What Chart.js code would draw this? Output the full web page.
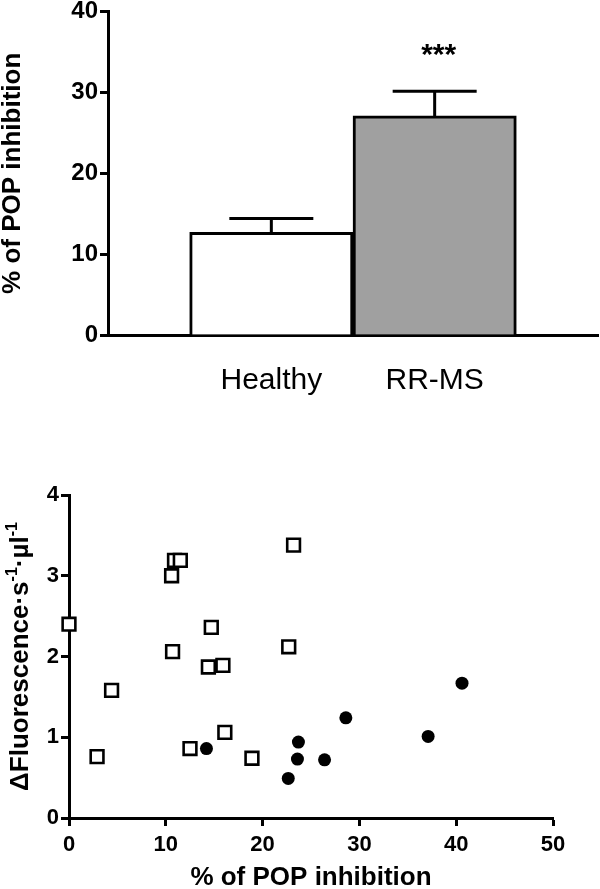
<!DOCTYPE html>
<html>
<head>
<meta charset="utf-8">
<script src="https://cdn.jsdelivr.net/npm/chart.js@4"></script>
<style>
  body { margin: 0; background: #fff; }
  canvas { display: block; }
</style>
</head>
<body>
<canvas id="barChart" width="600" height="400"></canvas>
<canvas id="scatterChart" width="600" height="489"></canvas>
<script>
// bar chart: % of POP inhibition, mean + SEM
const groups = ['Healthy', 'RR-MS'];
const means = [12.7, 27.1];
const sems = [1.7, 3.05];
const stars = ['', '***'];
const barColors = ['#ffffff', '#a0a0a0'];
const barTicks = [0, 10, 20, 30, 40];

// scatter: POP inhibition vs fluorescence
const healthyX = [0, 2.9, 4.4, 10.6, 10.9, 11.5, 10.7, 12.5, 14.7, 14.4, 15.9, 16.1, 18.9, 22.7, 23.2];
const healthyY = [2.40, 0.76, 1.58, 3.00, 3.19, 3.19, 2.06, 0.86, 2.36, 1.87, 1.89, 1.06, 0.74, 2.12, 3.38];
const rrmsX = [14.2, 22.65, 23.7, 23.6, 26.4, 28.6, 37.1, 40.6];
const rrmsY = [0.86, 0.49, 0.94, 0.73, 0.72, 1.24, 1.01, 1.67];

Chart.defaults.font.family = "'Liberation Sans', Arial, sans-serif";
Chart.defaults.color = '#000';

const errorBars = {
    id: 'errorBars',
    afterDatasetsDraw(chart) {
        const ctx = chart.ctx;
        const xs = chart.scales.x, ys = chart.scales.y;
        ctx.save();
        ctx.strokeStyle = '#000';
        ctx.lineWidth = 3;
        means.forEach((m, i) => {
            const x = xs.getPixelForValue(i + 1);
            const yBar = ys.getPixelForValue(m);
            const yTop = ys.getPixelForValue(m + sems[i]);
            ctx.beginPath();
            ctx.moveTo(x, yBar);
            ctx.lineTo(x, yTop);
            ctx.moveTo(x - 42, yTop);
            ctx.lineTo(x + 42, yTop);
            ctx.stroke();
            if (stars[i]) {
                ctx.fillStyle = '#000';
                ctx.font = "bold 30px 'Liberation Sans', Arial, sans-serif";
                ctx.textAlign = 'center';
                ctx.textBaseline = 'middle';
                ctx.fillText(stars[i], x + 4, yTop - 36);
            }
        });
        ctx.restore();
    }
};

const noSidePadding = s => { s.paddingLeft = 0; s.paddingRight = 0; };

new Chart(document.getElementById('barChart'), {
    type: 'bar',
    data: {
        labels: ['', ...groups, ''],
        datasets: [{
            data: [null, ...means, null],
            backgroundColor: ['#fff', ...barColors, '#fff'],
            borderColor: '#000',
            borderWidth: 3,
            barPercentage: 1,
            categoryPercentage: 1
        }]
    },
    options: {
        responsive: false,
        animation: false,
        layout: { padding: { top: 10, right: 2, left: 0, bottom: 0 } },
        plugins: { legend: { display: false }, tooltip: { enabled: false } },
        scales: {
            x: {
                offset: false,
                grid: { display: false },
                border: { color: '#000', width: 3 },
                ticks: { font: { size: 30 }, padding: 20, maxRotation: 0, autoSkip: false },
                afterFit: s => { s.height = 65; noSidePadding(s); }
            },
            y: {
                min: 0,
                max: 40,
                afterBuildTicks: s => { s.ticks = barTicks.map(v => ({ value: v })); },
                grid: { drawOnChartArea: false, tickLength: 8, tickWidth: 3, tickColor: '#000' },
                border: { color: '#000', width: 3 },
                ticks: { font: { size: 24, weight: 'bold', lineHeight: 0.8 }, padding: 2 },
                title: {
                    display: true,
                    text: '% of POP inhibition',
                    font: { size: 26, weight: 'bold', lineHeight: 1 },
                    padding: 0
                },
                afterFit: s => { s.width = 108; }
            }
        }
    },
    plugins: [errorBars]
});

// rotated y title with superscripts
const yTitleParts = [
    { text: '\u0394Fluorescence\u00b7s', sup: false },
    { text: '-1', sup: true },
    { text: '\u00b7\u00b5l', sup: false },
    { text: '-1', sup: true }
];
const supTitle = {
    id: 'supTitle',
    afterDraw(chart) {
        const ctx = chart.ctx;
        const area = chart.chartArea;
        const mainFont = "bold 26px 'Liberation Sans', Arial, sans-serif";
        const supFont = "bold 16px 'Liberation Sans', Arial, sans-serif";
        ctx.save();
        let total = 0;
        yTitleParts.forEach(p => {
            ctx.font = p.sup ? supFont : mainFont;
            p.w = ctx.measureText(p.text).width;
            total += p.w;
        });
        ctx.translate(28, (area.top + area.bottom) / 2);
        ctx.rotate(-Math.PI / 2);
        ctx.fillStyle = '#000';
        ctx.textBaseline = 'alphabetic';
        ctx.textAlign = 'left';
        let x = -total / 2;
        yTitleParts.forEach(p => {
            ctx.font = p.sup ? supFont : mainFont;
            ctx.fillText(p.text, x, p.sup ? -11 : 0);
            x += p.w;
        });
        ctx.restore();
    }
};

const toPoints = (xs, ys) => xs.map((x, i) => ({ x: x, y: ys[i] }));

new Chart(document.getElementById('scatterChart'), {
    type: 'scatter',
    data: {
        datasets: [{
            label: 'Healthy',
            data: toPoints(healthyX, healthyY),
            pointStyle: 'rect',
            pointRadius: 9,
            backgroundColor: '#fff',
            borderColor: '#000',
            borderWidth: 2.6,
            clip: false
        }, {
            label: 'RR-MS',
            data: toPoints(rrmsX, rrmsY),
            pointStyle: 'circle',
            pointRadius: 6.5,
            backgroundColor: '#000',
            borderColor: '#000',
            borderWidth: 0,
            clip: false
        }]
    },
    options: {
        responsive: false,
        animation: false,
        layout: { padding: { top: 95, right: 47, left: 0, bottom: 0 } },
        plugins: { legend: { display: false }, tooltip: { enabled: false } },
        scales: {
            x: {
                type: 'linear',
                min: 0,
                max: 50,
                ticks: { stepSize: 10, font: { size: 22, weight: 'bold' }, padding: 6 },
                grid: { drawOnChartArea: false, tickLength: 8, tickWidth: 3, tickColor: '#000' },
                border: { color: '#000', width: 3 },
                title: {
                    display: true,
                    text: '% of POP inhibition',
                    font: { size: 26, weight: 'bold', lineHeight: 1 },
                    padding: { top: 0, bottom: -2 }
                },
                afterFit: s => { s.height = 71; noSidePadding(s); }
            },
            y: {
                min: 0,
                max: 4,
                ticks: { stepSize: 1, font: { size: 22, weight: 'bold', lineHeight: 0.8 }, padding: 2 },
                grid: { drawOnChartArea: false, tickLength: 8, tickWidth: 3, tickColor: '#000' },
                border: { color: '#000', width: 3 },
                afterFit: s => { s.width = 69; }
            }
        }
    },
    plugins: [supTitle]
});
</script>
</body>
</html>
